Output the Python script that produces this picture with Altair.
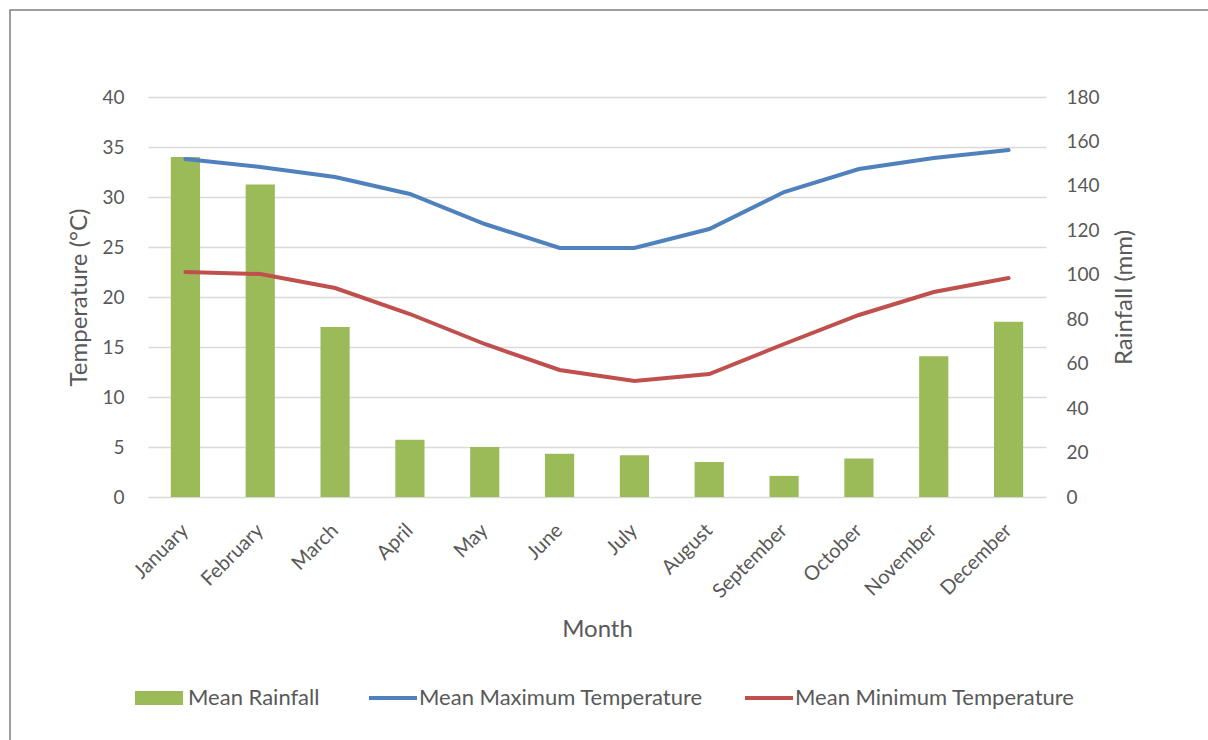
import altair as alt
import pandas as pd

months = ["January", "February", "March", "April", "May", "June", "July",
          "August", "September", "October", "November", "December"]
rainfall = [153.0, 140.6, 76.5, 25.8, 22.5, 19.5, 18.8, 15.7, 9.5, 17.3, 63.3, 78.9]
max_temp = [33.8, 33.0, 32.0, 30.3, 27.3, 24.9, 24.9, 26.8, 30.5, 32.8, 33.9, 34.7]
min_temp = [22.5, 22.3, 20.9, 18.3, 15.3, 12.7, 11.6, 12.3, 15.3, 18.2, 20.5, 21.9]

GREEN = "#9BBB59"
BLUE = "#4F81BD"
RED = "#C0504D"
TXT = "#595959"
FONT = "Lato"

rain_df = pd.DataFrame({"Month": months, "Rainfall": rainfall, "Series": "Mean Rainfall"})
temp_df = pd.DataFrame({
    "Month": months * 2,
    "Temp": max_temp + min_temp,
    "Series": ["Mean Maximum Temperature"] * 12 + ["Mean Minimum Temperature"] * 12,
})

x_enc = alt.X("Month:N", sort=months,
              scale=alt.Scale(paddingInner=0.61, paddingOuter=0.305),
              axis=alt.Axis(title="Month", labelAngle=-45, labelAlign="right",
                            labelBaseline="middle", labelPadding=30, ticks=False,
                            domain=False, titlePadding=16, titleFontSize=24,
                            labelFontSize=20))

bars = alt.Chart(rain_df).mark_bar(color=GREEN).encode(
    x=x_enc,
    y=alt.Y("Rainfall:Q", scale=alt.Scale(domain=[0, 180], nice=False),
            axis=alt.Axis(title="Rainfall (mm)", orient="right", values=list(range(0, 181, 20)),
                          grid=False, ticks=False, domain=False, labelPadding=20,
                          titleAngle=270, titlePadding=37)),
    color=alt.Color("Series:N", scale=alt.Scale(domain=["Mean Rainfall"], range=[GREEN]),
                    legend=alt.Legend(title=None, orient="none", legendX=-13, legendY=577,
                                      symbolType="M-1,-0.29H1V0.29H-1Z", symbolSize=2304,
                                      symbolStrokeWidth=0, labelOffset=5)),
)

lines = alt.Chart(temp_df).mark_line(strokeWidth=4, strokeCap="round").encode(
    x=alt.X("Month:N", sort=months),
    y=alt.Y("Temp:Q", scale=alt.Scale(domain=[0, 40], nice=False),
            axis=alt.Axis(title="Temperature (°C)", orient="left", values=list(range(0, 41, 5)),
                          grid=True, ticks=False, domain=False, labelPadding=24,
                          titlePadding=10)),
    color=alt.Color("Series:N",
                    scale=alt.Scale(domain=["Mean Maximum Temperature", "Mean Minimum Temperature"],
                                    range=[BLUE, RED]),
                    legend=alt.Legend(title=None, orient="none", legendX=219, legendY=575,
                                      direction="horizontal", symbolType="stroke",
                                      symbolSize=2304, symbolStrokeWidth=4, labelOffset=0,
                                      columnPadding=34)),
)

frame = alt.Chart(pd.DataFrame({"a": [0]})).mark_rect(fill=None, stroke="#7F7F7F", strokeWidth=1.5).encode(
    x=alt.value(-138), x2=alt.value(1300), y=alt.value(-87), y2=alt.value(900)
)

chart = alt.layer(bars, lines, frame).resolve_scale(
    y="independent", color="independent"
).resolve_legend(color="independent").properties(
    width=898, height=400,
    autosize=alt.AutoSizeParams(type="none"),
    padding={"left": 148, "top": 97, "right": 162, "bottom": 243},
    background="white",
).configure_view(stroke=None).configure_axis(
    labelFont=FONT, titleFont=FONT, labelColor=TXT, titleColor=TXT,
    labelFontSize=19, titleFontSize=24, titleFontWeight="normal",
    gridColor="#D9D9D9", gridWidth=1.3,
).configure_legend(
    labelFont=FONT, labelFontSize=22, labelColor=TXT, labelLimit=0,
)

chart.save("out.html", embed_options={"renderer": "svg", "actions": False})
